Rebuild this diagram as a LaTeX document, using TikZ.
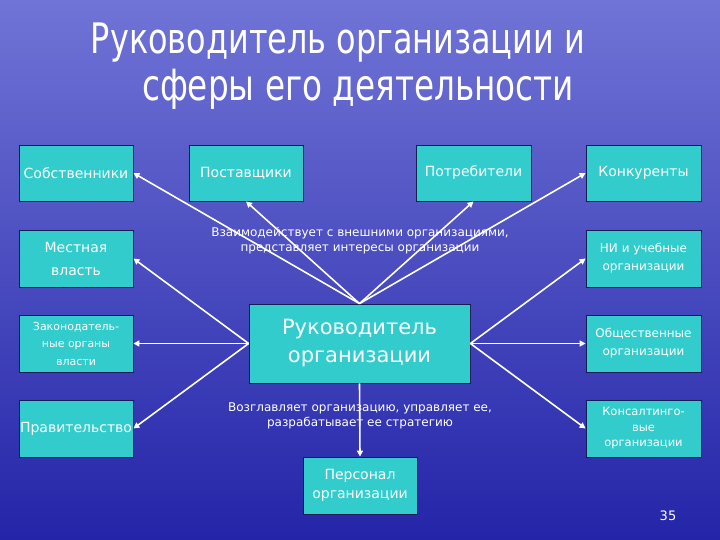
\documentclass[tikz,border=0pt]{standalone}
\usepackage{fontspec}
\setmainfont{DejaVu Sans}
\newfontfamily\titlefont[FakeStretch=0.76]{DejaVu Sans}
\newfontfamily\boxfont{DejaVu Sans}
\usepackage{tikz}
\usetikzlibrary{arrows.meta}
\definecolor{sky}{RGB}{112,116,214}
\definecolor{sea}{RGB}{72,76,198}
\definecolor{deep}{RGB}{36,36,168}
\definecolor{teal}{RGB}{51,204,204}
\definecolor{rim}{RGB}{20,30,80}
\tikzset{
    sphere/.style={draw=rim, line width=0.8pt, fill=teal, text=white, align=center,
        minimum width=114pt, minimum height=57pt, inner sep=1pt, font=\boxfont\fontsize{14}{23}\selectfont},
    smallsphere/.style={sphere, font=\boxfont\fontsize{11.5}{16}\selectfont},
    link/.style={draw=white, line width=1.6pt, -{Triangle[width=6pt,length=6pt]}},
    note/.style={text=white, align=center, font=\boxfont\fontsize{12}{15}\selectfont}
}

\begin{document}
\begin{tikzpicture}[x=1pt, y=-1pt]
            % background
            \shade[top color=sky, middle color=sea, bottom color=deep] (0,0) rectangle (720,540);
            \useasboundingbox (0,0) rectangle (720,540);

            % title
            \node (t1) at (338,43) {\titlefont\fontsize{42}{48}\selectfont\color{white}Руководитель организации и};
            \node (t2) at (358,89) {\titlefont\fontsize{43}{48}\selectfont\color{white}сферы его деятельности};

            % top row
            \node[sphere, minimum height=56pt] (owners) at (76,173) {Собственники};
            \node[sphere, minimum height=56pt] (suppliers) at (246,173) {Поставщики};
            \node[sphere, minimum height=56pt, minimum width=115pt] (customers) at (473.5,173) {Потребители};
            \node[sphere, minimum height=56pt, minimum width=115pt] (rivals) at (643.5,173) {Конкуренты};

            % left column
            \node[sphere] (local) at (76,258.5) {Местная\\власть};
            \node[smallsphere, font=\boxfont\fontsize{11}{17.5}\selectfont] (legis) at (76,343.5) {Законодатель-\\ные органы\\власти};
            \node[sphere] (gov) at (76,428.5) {Правительство};

            % right column
            \node[smallsphere, minimum width=115pt, font=\boxfont\fontsize{12}{18}\selectfont] (science) at (643.5,258.5) {НИ и учебные\\организации};
            \node[smallsphere, minimum width=115pt, font=\boxfont\fontsize{12}{18}\selectfont] (public) at (643.5,343.5) {Общественные\\организации};
            \node[smallsphere, minimum width=115pt, font=\boxfont\fontsize{11.5}{15.5}\selectfont] (consult) at (643.5,428.5) {Консалтинго-\\вые\\организации};

            % centre
            \node[sphere, minimum width=221pt, minimum height=79pt, font=\boxfont\fontsize{21}{28}\selectfont] (head) at (359.5,343.5) {Руководитель\\организации};
            \node[sphere, font=\boxfont\fontsize{14}{19}\selectfont] (staff) at (360,485.5) {Персонал\\организации};
            \node[text=white, font=\boxfont\fontsize{13}{15}\selectfont] (page) at (668,516) {35};

            % remarks
            \node[note] (outer) at (360,240.5) {Взаимодействует с внешними организациями,\\представляет интересы организации};
            \node[note] (inner) at (360,416) {Возглавляет организацию, управляет ее,\\разрабатывает ее стратегию};

            % links
            \draw[link] (head.north) -- (owners.east);
            \draw[link] (head.north) -- (suppliers.south);
            \draw[link] (head.north) -- (customers.south);
            \draw[link] (head.north) -- (rivals.west);
            \foreach \v in {local,legis,gov}
                \draw[link] (head.west) -- (\v.east);
            \foreach \v in {science,public,consult}
                \draw[link] (head.east) -- (\v.west);
            \draw[link] (head.south) -- (staff.north);
        \end{tikzpicture}
\end{document}
